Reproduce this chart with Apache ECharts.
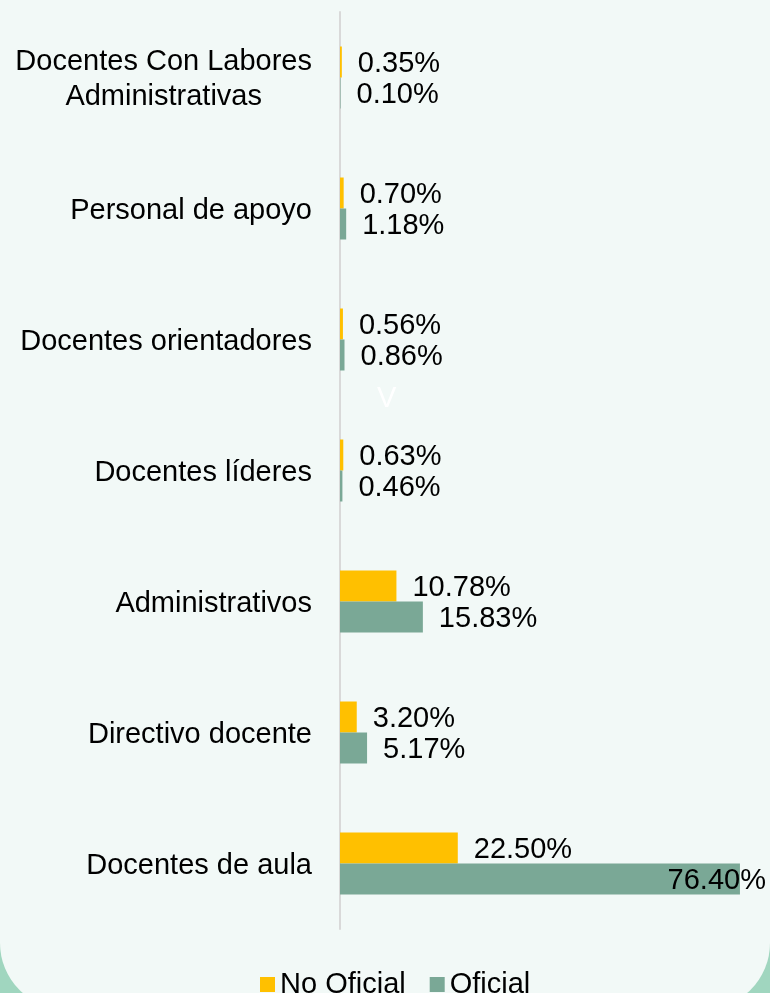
<!DOCTYPE html>
<html>
<head>
<meta charset="utf-8">
<script src="https://cdn.jsdelivr.net/npm/echarts@6/dist/echarts.min.js"></script>
<style>
  html, body { margin: 0; padding: 0; }
  #chart { width: 770px; height: 993px; }
</style>
</head>
<body>
<div id="chart"></div>
<script>
// categories bottom -> top
const categories = [
  "Docentes de aula",
  "Directivo docente",
  "Administrativos",
  "Docentes líderes",
  "Docentes orientadores",
  "Personal de apoyo",
  "Docentes Con Labores\nAdministrativas",
];
const noOficial = [22.5, 3.2, 10.78, 0.63, 0.56, 0.7, 0.35];
const oficial = [76.4, 5.17, 15.83, 0.46, 0.86, 1.18, 0.1];
const seriesNames = ["No Oficial", "Oficial"];

const FONT = "'Liberation Sans', Arial, sans-serif";
const FS = 29;
const chart = echarts.init(document.getElementById("chart"));

const valueLabel = {
  show: true,
  position: "right",
  distance: 16,
  offset: [0, 2],
  color: "#000",
  fontSize: FS,
  fontFamily: FONT,
  formatter: (p) => p.value.toFixed(2) + "%",
};

chart.setOption({
  backgroundColor: "#a0d6bf",
  animation: false,
  graphic: [
    {
      type: "rect",
      z: -100,
      silent: true,
      shape: { x: 0, y: -50, width: 770, height: 1059, r: [0, 0, 66, 66] },
      style: { fill: "#f2f9f7" },
    },
    {
      type: "text",
      silent: true,
      left: 377,
      top: 384,
      style: { text: "V", fill: "#ffffff", font: FS + "px " + FONT },
    },
  ],
  grid: { left: 340, top: 12, width: 418.8, height: 917 },
  legend: {
    data: seriesNames,
    left: 255,
    top: 965,
    icon: "rect",
    itemWidth: 15,
    itemHeight: 15,
    itemGap: 24,
    textStyle: { fontSize: FS, fontFamily: FONT, color: "#000" },
  },
  xAxis: {
    type: "value",
    min: 0,
    max: 80,
    show: false,
  },
  yAxis: {
    type: "category",
    data: categories,
    axisLine: { show: true, lineStyle: { color: "#d9d9d9", width: 2 } },
    axisTick: { show: false },
    axisLabel: {
      margin: 28,
      fontSize: FS,
      fontFamily: FONT,
      color: "#000",
      lineHeight: 35,
      padding: [4, 0, 0, 0],
      formatter: (v) =>
        v.includes("\n")
          ? v.split("\n").map((s) => "{c|" + s + "}").join("\n")
          : v,
      rich: { c: { align: "center", fontSize: FS, fontFamily: FONT, color: "#000", lineHeight: 35 } },
    },
  },
  series: [
    {
      name: "No Oficial",
      type: "bar",
      barWidth: 31,
      barGap: "0%",
      itemStyle: { color: "#ffc000" },
      label: valueLabel,
      data: noOficial,
    },
    {
      name: "Oficial",
      type: "bar",
      barWidth: 31,
      barGap: "0%",
      itemStyle: { color: "#7aa896" },
      label: valueLabel,
      data: oficial.map((v, i) =>
        i === 0
          ? { value: v, label: { position: "insideRight", offset: [42, 2] } }
          : v
      ),
    },
  ],
});
</script>
</body>
</html>
